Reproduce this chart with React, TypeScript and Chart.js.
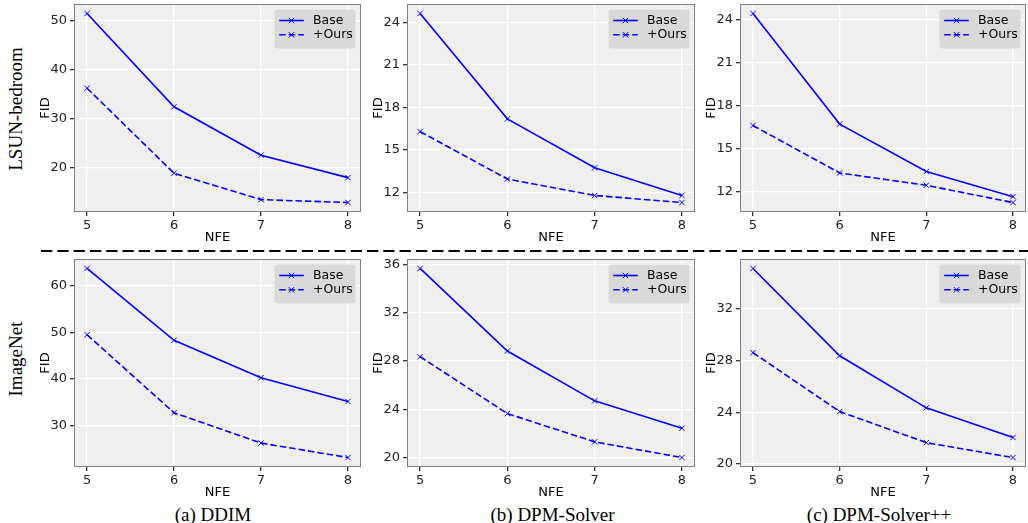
import React, { useEffect, useRef } from 'react';
import { Chart, registerables } from 'chart.js';

Chart.register(...registerables);

// ---------- data ----------
const NFE = [5, 6, 7, 8];
const X_TICKS = [5, 6, 7, 8];

const lsunDdimBase = [51.5, 32.4, 22.5, 17.9];
const lsunDdimOurs = [36.2, 18.8, 13.4, 12.8];
const lsunDpmBase = [24.63, 17.2, 13.75, 11.8];
const lsunDpmOurs = [16.3, 12.96, 11.8, 11.3];
const lsunDpmppBase = [24.4, 16.7, 13.4, 11.65];
const lsunDpmppOurs = [16.6, 13.3, 12.44, 11.24];

const imnDdimBase = [63.7, 48.3, 40.3, 35.2];
const imnDdimOurs = [49.5, 32.8, 26.3, 23.2];
const imnDpmBase = [35.67, 28.83, 24.7, 22.43];
const imnDpmOurs = [28.36, 23.64, 21.3, 20.0];
const imnDpmppBase = [35.1, 28.36, 24.34, 22.05];
const imnDpmppOurs = [28.6, 24.05, 21.65, 20.5];

const lsunDdimTicks = [20, 30, 40, 50];
const lsunDpmTicks = [12, 15, 18, 21, 24];
const lsunDpmppTicks = [12, 15, 18, 21, 24];
const imnDdimTicks = [30, 40, 50, 60];
const imnDpmTicks = [20, 24, 28, 32, 36];
const imnDpmppTicks = [20, 24, 28, 32];

const SERIES_LABELS = ['Base', '+Ours'];
const ROW_LABELS = ['LSUN-bedroom', 'ImageNet'];
const CAPTIONS = ['(a) DDIM', '(b) DPM-Solver', '(c) DPM-Solver++'];
const X_TITLE = 'NFE';
const Y_TITLE = 'FID';

// ---------- layout ----------
const AXIS_W = 36;
const PAD_TOP = 14;
const PAD_RIGHT = 4;
const XAXIS_H = 33;
const PLOT_H = 208;
const COL_LEFT = [74, 407, 740];
const COL_W = [288, 289, 287];
const ROW_TOP = [4, 259];

const FONT = '"DejaVu Sans", sans-serif';
const FONT_SIZE = 13;
const LEGEND_FONT_SIZE = 12.5;
const BLUE = '#0000ff';

function paddedRange(vals: number[]): [number, number] {
  const lo = Math.min(...vals);
  const hi = Math.max(...vals);
  const m = (hi - lo) * 0.05;
  return [lo - m, hi + m];
}

const decoPlugin = {
  id: 'deco',
  beforeDraw(chart: any) {
    const { ctx, chartArea: a } = chart;
    ctx.save();
    ctx.fillStyle = '#EFEFEF';
    ctx.fillRect(a.left, a.top, a.right - a.left, a.bottom - a.top);
    ctx.restore();
  },
  afterDraw(chart: any) {
    const { ctx, chartArea: a } = chart;
    ctx.save();
    // spines
    ctx.strokeStyle = '#808080';
    ctx.lineWidth = 1;
    ctx.strokeRect(a.left + 0.5, a.top + 0.5, a.right - a.left - 1, a.bottom - a.top - 1);

    // legend
    const bw = 81;
    const bh = 39;
    const bx = a.right - 5.5 - bw;
    const by = a.top + 5.5;
    const r = 3;
    ctx.fillStyle = '#d9d9d9';
    ctx.beginPath();
    ctx.moveTo(bx + r, by);
    ctx.lineTo(bx + bw - r, by);
    ctx.quadraticCurveTo(bx + bw, by, bx + bw, by + r);
    ctx.lineTo(bx + bw, by + bh - r);
    ctx.quadraticCurveTo(bx + bw, by + bh, bx + bw - r, by + bh);
    ctx.lineTo(bx + r, by + bh);
    ctx.quadraticCurveTo(bx, by + bh, bx, by + bh - r);
    ctx.lineTo(bx, by + r);
    ctx.quadraticCurveTo(bx, by, bx + r, by);
    ctx.closePath();
    ctx.fill();

    chart.data.datasets.forEach((ds: any, i: number) => {
      const y = by + 11 + i * 14.3;
      const x0 = bx + 4.7;
      const x1 = bx + 29.3;
      const xm = (x0 + x1) / 2;
      ctx.strokeStyle = ds.borderColor;
      ctx.lineWidth = ds.borderWidth;
      ctx.setLineDash(ds.borderDash || []);
      ctx.beginPath();
      ctx.moveTo(x0, y);
      ctx.lineTo(x1, y);
      ctx.stroke();
      ctx.setLineDash([]);
      ctx.lineWidth = 1;
      const h = 2.7;
      ctx.beginPath();
      ctx.moveTo(xm - h, y - h);
      ctx.lineTo(xm + h, y + h);
      ctx.moveTo(xm - h, y + h);
      ctx.lineTo(xm + h, y - h);
      ctx.stroke();
      ctx.fillStyle = '#000';
      ctx.font = `${LEGEND_FONT_SIZE}px ${FONT}`;
      ctx.textBaseline = 'middle';
      ctx.textAlign = 'left';
      ctx.fillText(ds.label, bx + 38.5, y);
    });
    ctx.restore();
  },
};

type PanelProps = {
  base: number[];
  ours: number[];
  yTicks: number[];
  col: number;
  row: number;
};

function Panel({ base, ours, yTicks, col, row }: PanelProps) {
  const ref = useRef<HTMLCanvasElement | null>(null);
  const width = AXIS_W + COL_W[col] + PAD_RIGHT;
  const height = PAD_TOP + PLOT_H + XAXIS_H;

  useEffect(() => {
    if (!ref.current) return;
    const [ymin, ymax] = paddedRange([...base, ...ours]);
    const [xmin, xmax] = paddedRange(NFE);
    const makeData = (vals: number[]) => NFE.map((x, i) => ({ x, y: vals[i] }));
    const common = {
      borderColor: BLUE,
      borderWidth: 1.6,
      pointStyle: 'crossRot',
      pointRadius: 3.8,
      pointBorderWidth: 1,
      pointBorderColor: BLUE,
      pointBackgroundColor: BLUE,
      tension: 0,
      fill: false,
    };
    const chart = new Chart(ref.current, {
      type: 'line',
      data: {
        datasets: [
          { ...common, label: SERIES_LABELS[0], data: makeData(base) },
          { ...common, label: SERIES_LABELS[1], data: makeData(ours), borderDash: [6.5, 3] },
        ],
      },
      options: {
        responsive: false,
        animation: false,
        events: [],
        devicePixelRatio: 1,
        layout: { padding: { top: PAD_TOP, right: PAD_RIGHT, left: 0, bottom: 0 } },
        plugins: {
          legend: { display: false },
          tooltip: { enabled: false },
          title: { display: false },
        },
        scales: {
          x: {
            type: 'linear',
            min: xmin,
            max: xmax,
            afterBuildTicks: (scale: any) => {
              scale.ticks = X_TICKS.map((v) => ({ value: v }));
            },
            afterFit: (scale: any) => {
              scale.height = XAXIS_H;
            },
            grid: {
              color: '#ffffff',
              lineWidth: 1.3,
              tickColor: '#333333',
              tickLength: 4,
              drawTicks: true,
            },
            border: { display: false },
            ticks: {
              font: { family: FONT, size: FONT_SIZE },
              color: '#222',
              padding: 2,
              maxRotation: 0,
              autoSkip: false,
              callback: (v: any) => String(v),
            },
            title: {
              display: true,
              text: X_TITLE,
              font: { family: FONT, size: FONT_SIZE },
              color: '#000',
              padding: { top: 0, bottom: 0 },
            },
          },
          y: {
            type: 'linear',
            min: ymin,
            max: ymax,
            afterBuildTicks: (scale: any) => {
              scale.ticks = yTicks.map((v) => ({ value: v }));
            },
            afterFit: (scale: any) => {
              scale.width = AXIS_W;
            },
            grid: {
              color: '#ffffff',
              lineWidth: 1.3,
              tickColor: '#333333',
              tickLength: 4,
              drawTicks: true,
            },
            border: { display: false },
            ticks: {
              font: { family: FONT, size: FONT_SIZE },
              color: '#222',
              padding: 3,
              autoSkip: false,
              callback: (v: any) => String(v),
            },
            title: {
              display: true,
              text: Y_TITLE,
              font: { family: FONT, size: FONT_SIZE },
              color: '#000',
              padding: { top: 0, bottom: 0 },
            },
          },
        },
      },
      plugins: [decoPlugin],
    } as any);
    return () => chart.destroy();
  }, [base, ours, yTicks, col, row]);

  return (
    <canvas
      ref={ref}
      width={width}
      height={height}
      style={{
        position: 'absolute',
        left: COL_LEFT[col] - AXIS_W,
        top: ROW_TOP[row] - PAD_TOP,
        width,
        height,
      }}
    />
  );
}

const CAPTION_X = [213, 552.5, 879];
const CAPTION_Y = 513.5;
const ROW_LABEL_Y = [108.5, 359];
const ROW_LABEL_X = 15.3;

export default function App() {
  const serif = '"Liberation Serif", "Times New Roman", serif';
  return (
    <div
      style={{
        position: 'fixed',
        left: 0,
        top: 0,
        width: 1028,
        height: 523,
        overflow: 'hidden',
        background: '#fff',
      }}
    >
      <Panel base={lsunDdimBase} ours={lsunDdimOurs} yTicks={lsunDdimTicks} col={0} row={0} />
      <Panel base={lsunDpmBase} ours={lsunDpmOurs} yTicks={lsunDpmTicks} col={1} row={0} />
      <Panel base={lsunDpmppBase} ours={lsunDpmppOurs} yTicks={lsunDpmppTicks} col={2} row={0} />
      <Panel base={imnDdimBase} ours={imnDdimOurs} yTicks={imnDdimTicks} col={0} row={1} />
      <Panel base={imnDpmBase} ours={imnDpmOurs} yTicks={imnDpmTicks} col={1} row={1} />
      <Panel base={imnDpmppBase} ours={imnDpmppOurs} yTicks={imnDpmppTicks} col={2} row={1} />

      <svg
        width={1028}
        height={6}
        style={{ position: 'absolute', left: 0, top: 247.5 }}
      >
        <line x1={41} y1={3} x2={1028} y2={3} stroke="#000" strokeWidth={2.2} strokeDasharray="11.3 5" />
      </svg>

      {ROW_LABELS.map((t, i) => (
        <div
          key={t}
          style={{
            position: 'absolute',
            left: ROW_LABEL_X,
            top: ROW_LABEL_Y[i],
            transform: 'translate(-50%, -50%) rotate(-90deg)',
            fontFamily: serif,
            fontSize: 19,
            whiteSpace: 'nowrap',
            color: '#000',
            lineHeight: 1,
          }}
        >
          {t}
        </div>
      ))}

      {CAPTIONS.map((t, i) => (
        <div
          key={t}
          style={{
            position: 'absolute',
            left: CAPTION_X[i],
            top: CAPTION_Y,
            transform: 'translate(-50%, -50%)',
            fontFamily: serif,
            fontSize: 19,
            whiteSpace: 'nowrap',
            color: '#000',
            lineHeight: 1,
          }}
        >
          {t}
        </div>
      ))}
    </div>
  );
}
